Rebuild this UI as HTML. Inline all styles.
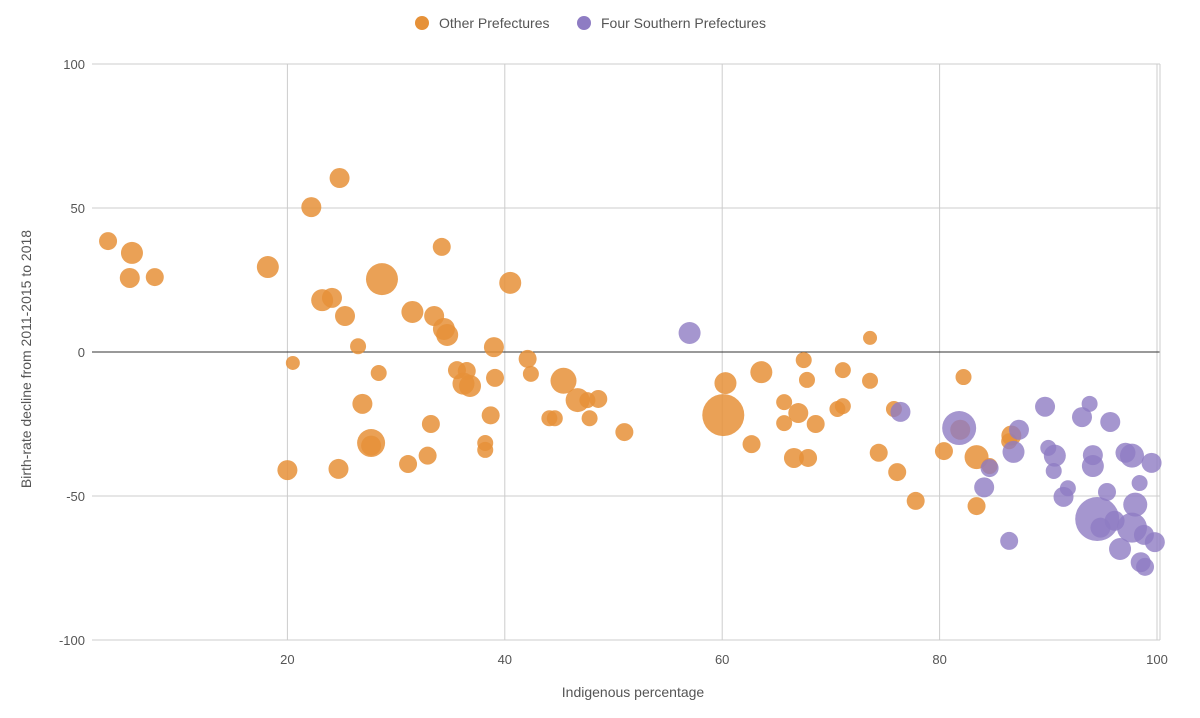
<!DOCTYPE html>
<html><head><meta charset="utf-8"><style>
body{margin:0;background:#fff;font-family:"Liberation Sans",sans-serif}
svg text{font-family:"Liberation Sans",sans-serif;fill:#555}
</style></head><body>
<svg id="chart" width="1200" height="713" xmlns="http://www.w3.org/2000/svg">
<g>
<g><circle cx="422" cy="23" r="7" fill="#E69138"/><text x="439" y="28" font-size="14">Other Prefectures</text></g>
<g><circle cx="584" cy="23" r="7" fill="#8E7CC3"/><text x="601" y="28" font-size="14">Four Southern Prefectures</text></g>
</g>
<g id="grid"></g><g id="marks"></g>
<text x="633" y="697" font-size="14" text-anchor="middle">Indigenous percentage</text>
<text transform="translate(31,359) rotate(-90)" font-size="14" text-anchor="middle">Birth-rate decline from 2011-2015 to 2018</text>
</svg>
<script>
const orangeX=[3.5,5.7,5.5,7.8,18.2,22.2,24.8,28.7,23.2,24.1,25.3,26.5,20.5,28.4,26.9,27.7,27.7,20,24.7,31.1,32.9,33.2,34.2,31.5,33.5,34.4,34.7,35.6,36.5,36.2,36.8,39,39.1,38.7,38.2,38.2,40.5,42.1,42.4,44.1,44.6,45.4,46.7,47.6,48.6,47.8,51,60.3,60.1,62.7,63.6,65.7,65.7,67.5,67.8,67,66.6,67.9,68.6,71.1,70.6,71.1,73.6,73.6,74.4,75.8,76.1,77.8,80.4,82.2,81.9,83.4,83.4,86.6,86.4,84.6];
const orangeY=[38.5,34.4,25.7,26,29.5,50.3,60.4,25.3,18,18.8,12.5,2,-3.8,-7.3,-18,-31.6,-32.5,-41,-40.6,-38.9,-36,-25,36.5,13.9,12.5,8,5.9,-6.3,-6.6,-11,-11.8,1.7,-9,-22,-31.6,-34,24,-2.4,-7.6,-23,-23,-10,-16.7,-16.7,-16.3,-23,-27.8,-10.8,-21.9,-32,-7,-17.4,-24.7,-2.8,-9.7,-21.2,-36.8,-36.8,-25,-6.3,-19.8,-18.8,4.9,-10,-35,-19.8,-41.7,-51.7,-34.4,-8.7,-27,-36.5,-53.5,-29,-31,-39.6];
const orangeSize=[9,11,10,9,11,10,10,16,11,10,10,8,7,8,10,14,10,10,10,9,9,9,9,11,10,11,11,9,9,11,11,10,9,9,8,8,11,9,8,8,8,13,12,8,9,8,9,11,21,9,11,8,8,8,8,10,10,9,9,8,8,8,7,8,9,8,9,9,9,8,10,12,9,10,8,8];
const purpleX=[57,76.4,81.8,84.6,84.1,86.8,87.3,86.4,89.7,90,90.6,90.5,91.4,91.8,93.1,93.8,95.7,94.1,94.1,95.4,94.5,94.8,96.1,96.6,97.1,97.7,98,98.4,97.7,98.8,98.5,98.9,99.5,99.8];
const purpleY=[6.6,-20.8,-26.4,-40.3,-47,-34.7,-27,-65.6,-19,-33.3,-36,-41.3,-50.3,-47.3,-22.6,-18,-24.3,-35.8,-39.6,-48.6,-58,-61,-58.6,-68.4,-35,-36,-53,-45.5,-61,-63.5,-73,-74.6,-38.5,-66];
const purpleSize=[11,10,17,9,10,11,10,9,10,8,11,8,10,8,10,8,10,10,11,9,22,10,10,11,10,12,12,8,15,10,10,9,10,10];
const xTicks=[20,40,60,80,100];
const yTicks=[100,50,0,-50,-100];
const X=v=>70+v*10.87, Y=v=>352-v*2.88;
const NS='http://www.w3.org/2000/svg';
const grid=document.getElementById('grid'), marks=document.getElementById('marks');
function mk(tag,attrs,parent){const e=document.createElementNS(NS,tag);for(const k in attrs)e.setAttribute(k,attrs[k]);parent.appendChild(e);return e;}
xTicks.forEach(t=>{
 const l=mk('line',{x1:X(t),x2:X(t),y1:64,y2:640,stroke:'#ccc'},grid);
 
 
 const tx=mk('text',{x:X(t),y:664,'font-size':13,'text-anchor':'middle'},grid);tx.textContent=t;
 
 
});
yTicks.forEach(t=>{
 const l=mk('line',{x1:92,x2:1160,y1:Y(t),y2:Y(t),stroke:t===0?'#333':'#ccc'},grid);
 
 
 const tx=mk('text',{x:85,y:Y(t)+5,'font-size':13,'text-anchor':'end'},grid);tx.textContent=t;
 
 
});
mk('line',{x1:1160,x2:1160,y1:64,y2:640,stroke:'#ccc'},grid);
orangeX.forEach((v,i)=>{
 const c=mk('circle',{cx:X(v),cy:Y(orangeY[i]),r:orangeSize[i],fill:'#E69138','fill-opacity':0.85},marks);
 
 
});
purpleX.forEach((v,i)=>{
 const c=mk('circle',{cx:X(v),cy:Y(purpleY[i]),r:purpleSize[i],fill:'#8E7CC3','fill-opacity':0.8},marks);
 
 
});
</script>
</body></html>
